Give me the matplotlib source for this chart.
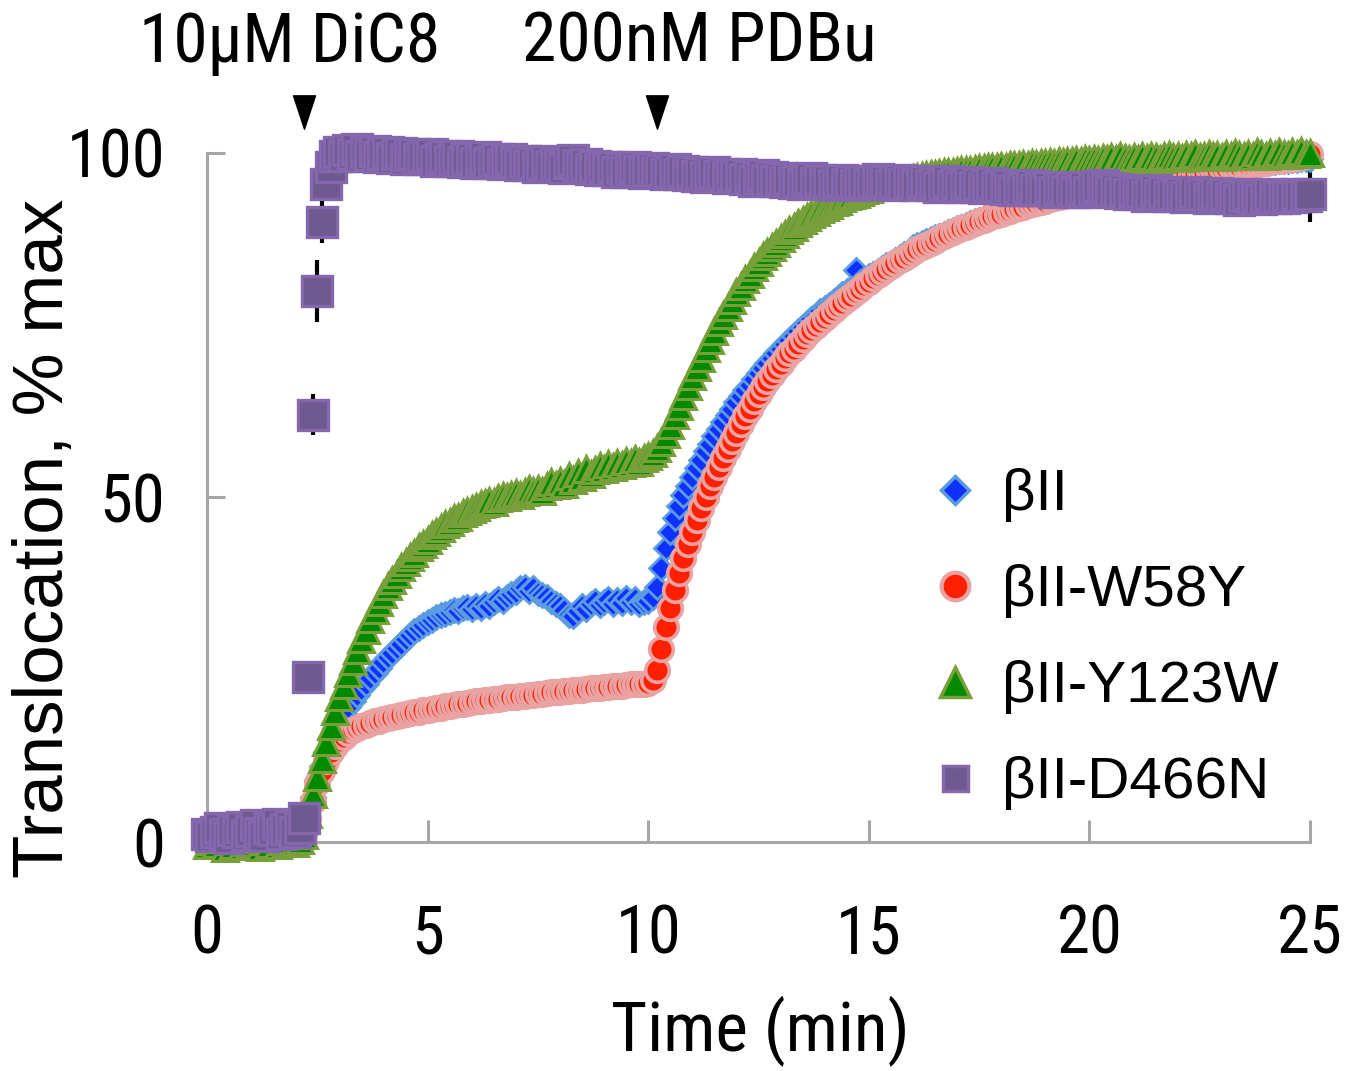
import numpy as np
import matplotlib
matplotlib.use("Agg")
import matplotlib.pyplot as plt
from matplotlib.lines import Line2D
from matplotlib.path import Path
from matplotlib import font_manager as fm

# ---------------- data ----------------
time_min = np.round(np.arange(0, 251) * 0.1, 1)   # sampling grid, 0-25 min

beta_II = [
    0.3, -0.2, 0.5, 0.1, -0.4, 0.6, 0.2, -0.1, 0.4, 0.0,
    0.5, -0.3, 0.2, 0.7, -0.2, 0.3, 0.6, 0.1, -0.3, 0.4,
    0.2, 0.6, 1.5, 3.5, 6.5, 9.0, 11.0, 13.0, 14.8, 16.5,
    17.5, 18.6, 19.6, 20.5, 21.3, 22.2, 23.0, 23.8, 24.6, 25.3,
    26.1, 26.8, 27.5, 28.2, 28.8, 29.4, 30.0, 30.6, 31.0, 31.5,
    31.9, 32.2, 32.6, 32.9, 33.1, 33.4, 33.6, 33.5, 33.9, 34.1,
    33.8, 34.2, 34.0, 34.5, 34.3, 34.8, 35.2, 35.0, 35.6, 36.0,
    36.3, 36.8, 37.0, 36.5, 36.9, 36.2, 35.8, 35.5, 35.0, 34.6,
    34.2, 33.6, 33.0, 32.8, 33.5, 34.3, 33.8, 34.6, 35.0, 34.4,
    34.8, 35.3, 34.6, 35.1, 34.7, 35.4, 34.9, 35.2, 34.5, 34.8,
    35.0, 35.6, 37.0, 39.8, 42.6, 45.0, 47.0, 48.8, 50.3, 51.7,
    53.0, 54.3, 55.5, 56.7, 57.8, 58.9, 60.0, 61.0, 62.0, 62.9,
    63.8, 64.7, 65.6, 66.4, 67.2, 68.0, 68.8, 69.5, 70.2, 70.9,
    71.6, 72.3, 72.9, 73.5, 74.1, 74.7, 75.3, 75.9, 76.4, 77.0,
    77.5, 78.0, 78.5, 79.0, 79.5, 80.0, 80.4, 83.0, 81.3, 81.7,
    82.1, 82.5, 82.9, 83.3, 83.7, 84.1, 84.5, 84.9, 85.3, 85.7,
    86.3, 86.6, 86.9, 87.2, 87.5, 87.8, 88.0, 88.3, 88.6, 88.8,
    89.1, 89.3, 89.6, 89.8, 90.1, 90.3, 90.5, 90.8, 91.0, 91.2,
    91.4, 91.6, 91.8, 92.0, 92.2, 92.4, 92.6, 92.8, 93.0, 93.1,
    93.3, 93.5, 93.6, 93.8, 94.0, 94.1, 94.3, 94.4, 94.6, 94.7,
    94.9, 95.0, 95.1, 95.3, 95.4, 95.5, 95.7, 95.8, 95.9, 96.0,
    96.1, 96.2, 96.4, 96.5, 96.6, 96.7, 96.8, 96.9, 97.0, 97.1,
    97.2, 97.3, 97.3, 97.4, 97.5, 97.6, 97.7, 97.7, 97.8, 97.9,
    98.0, 98.0, 98.1, 98.2, 98.2, 98.3, 98.4, 98.4, 98.5, 98.6,
    98.6, 98.7, 98.7, 98.8, 98.9, 98.9, 99.0, 99.0, 99.1, 99.2,
    99.2,
]

beta_II_W58Y = [
    0.2, -0.3, 0.4, 0.0, -0.5, 0.3, 0.1, -0.2, 0.5, 0.0,
    -0.1, 0.4, -0.4, 0.2, 0.6, -0.2, 0.3, 0.0, 0.5, -0.3,
    0.1, 0.4, 1.2, 3.5, 6.0, 8.5, 10.3, 11.8, 13.0, 14.0,
    14.7, 15.3, 15.8, 16.2, 16.5, 16.8, 17.0, 17.3, 17.5, 17.6,
    17.8, 18.0, 18.1, 18.3, 18.4, 18.6, 18.7, 18.8, 18.9, 19.1,
    19.2, 19.3, 19.4, 19.5, 19.7, 19.8, 19.9, 20.0, 20.1, 20.2,
    20.3, 20.4, 20.5, 20.6, 20.6, 20.7, 20.8, 20.9, 21.0, 21.0,
    21.1, 21.2, 21.2, 21.3, 21.4, 21.5, 21.5, 21.6, 21.7, 21.7,
    21.8, 21.9, 21.9, 22.0, 22.1, 22.1, 22.2, 22.3, 22.3, 22.4,
    22.5, 22.5, 22.6, 22.7, 22.7, 22.8, 22.9, 22.9, 23.0, 23.0,
    23.1, 23.5, 25.0, 28.0, 31.2, 34.0, 36.6, 39.0, 41.2, 43.2,
    45.0, 46.8, 48.5, 50.1, 51.6, 53.0, 54.4, 55.7, 57.0, 58.2,
    59.4, 60.6, 61.8, 62.9, 64.0, 65.0, 66.0, 66.9, 67.8, 68.6,
    69.4, 70.2, 70.9, 71.6, 72.3, 73.0, 73.7, 74.3, 74.9, 75.5,
    76.1, 76.7, 77.2, 77.8, 78.3, 78.8, 79.3, 79.8, 80.3, 80.8,
    81.3, 81.8, 82.3, 82.7, 83.2, 83.6, 84.0, 84.4, 84.8, 85.2,
    85.6, 86.0, 86.3, 86.7, 87.0, 87.3, 87.6, 87.9, 88.2, 88.5,
    88.8, 89.1, 89.3, 89.6, 89.8, 90.1, 90.3, 90.5, 90.8, 91.0,
    91.2, 91.4, 91.6, 91.8, 92.0, 92.2, 92.4, 92.6, 92.8, 92.9,
    93.1, 93.3, 93.4, 93.6, 93.7, 93.9, 94.0, 94.2, 94.3, 94.4,
    94.5, 94.7, 94.8, 94.9, 95.0, 95.1, 95.2, 95.4, 95.5, 95.6,
    95.7, 95.8, 95.9, 96.0, 96.1, 96.2, 96.3, 96.4, 96.5, 96.6,
    96.7, 96.8, 96.9, 97.0, 97.1, 97.2, 97.3, 97.4, 97.5, 97.6,
    97.7, 97.8, 97.9, 98.0, 98.1, 98.2, 98.3, 98.3, 98.4, 98.5,
    98.6, 98.7, 98.8, 98.9, 99.0, 99.1, 99.2, 99.3, 99.4, 99.5,
    99.8,
]

beta_II_Y123W = [
    -0.5, 0.2, -0.3, 0.5, -0.8, 0.1, -0.4, 0.3, -0.6, 0.0,
    -0.2, 0.4, -0.7, 0.1, -0.3, 0.6, -0.5, 0.2, -0.1, 0.3,
    -0.2, 0.3, 1.0, 4.0, 7.0, 9.5, 12.0, 14.5, 16.8, 19.0,
    21.0, 22.8, 24.5, 26.2, 27.9, 29.4, 30.8, 32.3, 33.6, 34.8,
    36.0, 37.1, 38.0, 38.9, 39.9, 40.6, 41.4, 42.0, 42.8, 43.3,
    43.9, 44.6, 45.0, 45.6, 46.1, 46.5, 47.0, 47.2, 47.8, 48.0,
    48.3, 48.6, 49.0, 49.2, 49.5, 49.4, 49.9, 50.2, 50.0, 50.4,
    50.6, 50.3, 50.8, 51.2, 50.9, 51.3, 51.0, 51.6, 52.3, 51.8,
    52.4, 52.0, 53.1, 52.6, 53.5, 53.0, 54.2, 53.4, 54.0, 54.5,
    54.1, 54.8, 54.4, 55.0, 54.7, 55.3, 55.0, 55.6, 55.2, 55.8,
    56.0, 56.5, 57.2, 58.0, 59.2, 60.5, 62.0, 63.3, 64.8, 66.2,
    67.6, 69.0, 70.3, 71.7, 72.9, 74.2, 75.4, 76.5, 77.7, 78.7,
    79.8, 80.7, 81.7, 82.5, 83.4, 84.2, 85.0, 85.7, 86.4, 87.0,
    87.6, 88.2, 88.8, 89.3, 89.8, 90.3, 90.7, 91.1, 91.5, 91.9,
    92.2, 92.5, 92.9, 93.1, 93.4, 93.7, 93.9, 94.1, 94.4, 94.6,
    94.8, 95.0, 95.2, 95.4, 95.5, 95.7, 95.8, 96.0, 96.1, 96.2,
    96.4, 96.5, 96.6, 96.8, 96.9, 97.0, 97.1, 97.2, 97.2, 97.3,
    97.4, 97.5, 97.6, 97.6, 97.7, 97.8, 97.8, 97.9, 98.0, 98.0,
    98.1, 98.0, 98.2, 98.3, 98.2, 98.4, 98.3, 98.5, 98.4, 98.6,
    98.5, 98.7, 98.6, 98.8, 98.7, 98.9, 98.8, 99.0, 98.9, 99.1,
    99.0, 99.2, 99.0, 99.3, 99.1, 99.4, 99.2, 99.5, 99.3, 99.1,
    99.4, 99.2, 99.5, 99.3, 99.6, 99.4, 99.2, 99.5, 99.7, 99.4,
    99.6, 99.3, 99.7, 99.5, 99.8, 99.4, 99.6, 99.9, 99.5, 99.7,
    99.4, 99.8, 99.6, 100.0, 99.7, 99.5, 99.9, 99.6, 100.1, 99.8,
    99.6, 100.0, 99.7, 100.2, 99.9, 99.7, 100.1, 99.8, 100.3, 99.9,
    100.0,
]

beta_II_D466N = [
    1.2, 0.8, 1.5, 2.0, 1.1, 0.6, 1.8, 1.4, 2.2, 1.0,
    1.6, 2.4, 1.3, 0.9, 2.1, 1.7, 2.6, 1.2, 1.9, 2.3,
    1.5, 2.0, 3.5, 24.0, 62.0, 80.0, 90.0, 95.5, 98.0, 99.5,
    100.2, 99.6, 100.4, 99.8, 100.6, 99.5, 100.1, 99.7, 100.3, 99.4,
    99.9, 100.2, 99.3, 99.8, 100.0, 99.2, 99.7, 99.9, 99.1, 99.6,
    99.4, 99.8, 98.9, 99.3, 99.6, 98.8, 99.2, 99.5, 98.7, 99.1,
    99.3, 98.6, 99.0, 99.4, 98.5, 98.9, 99.2, 98.4, 98.8, 99.1,
    98.7, 98.3, 98.9, 98.2, 98.6, 98.0, 98.4, 98.8, 98.1, 98.5,
    98.2, 97.8, 98.6, 99.0, 98.3, 97.9, 98.4, 97.7, 98.1, 97.6,
    98.0, 97.5, 97.9, 97.3, 97.8, 97.2, 97.6, 98.0, 97.4, 97.1,
    97.5, 97.8, 97.2, 97.6, 96.9, 97.3, 97.7, 97.0, 97.4, 96.8,
    97.2, 96.7, 97.1, 96.5, 96.9, 97.3, 96.6, 97.0, 96.4, 96.8,
    96.5, 96.9, 96.2, 96.6, 96.0, 96.4, 96.8, 96.1, 96.5, 95.9,
    96.3, 95.8, 96.2, 95.6, 96.0, 95.5, 95.9, 96.3, 95.7, 96.1,
    95.6, 96.0, 95.4, 95.8, 96.1, 95.5, 95.9, 95.3, 95.7, 96.0,
    95.5, 95.9, 96.2, 95.6, 96.0, 95.4, 95.8, 96.1, 95.5, 95.9,
    95.7, 95.3, 95.8, 96.0, 95.4, 95.6, 95.1, 95.5, 95.9, 95.2,
    95.6, 95.0, 95.4, 95.8, 95.1, 95.5, 94.9, 95.3, 95.7, 95.0,
    95.2, 94.8, 95.4, 94.7, 95.1, 94.6, 95.0, 95.3, 94.7, 94.9,
    94.6, 95.0, 94.4, 94.8, 95.1, 94.5, 94.9, 94.3, 94.7, 95.0,
    94.4, 94.8, 95.2, 95.4, 94.9, 94.5, 94.8, 94.2, 94.6, 94.1,
    94.5, 94.0, 94.4, 93.8, 94.2, 94.6, 93.9, 94.3, 93.7, 94.1,
    93.8, 94.2, 93.6, 94.0, 94.3, 93.7, 94.1, 93.5, 93.9, 94.2,
    93.6, 94.0, 93.4, 93.8, 93.2, 93.7, 94.1, 93.5, 93.9, 93.3,
    93.7, 94.0, 93.4, 93.8, 93.5, 93.9, 93.6, 94.0, 93.7, 93.8,
    94.0,
]

# error bars that show beyond the D466N markers
d466n_err_time = [2.4, 2.5, 2.6, 25.0]
d466n_err = [3.0, 4.5, 3.0, 4.0]

labels = ["βII", "βII-W58Y", "βII-Y123W", "βII-D466N"]
event_time = [2.2, 10.2]
event_label = ["10μM DiC8", "200nM PDBu"]
x_ticks = [0, 5, 10, 15, 20, 25]
y_ticks = [0, 50, 100]

# ---------------- fonts ----------------
_names = {f.name for f in fm.fontManager.ttflist}
NARROW_PROPS = None
for cand in ["Liberation Sans Narrow", "Arial Narrow", "Roboto Condensed", "Open Sans Condensed"]:
    if cand in _names:
        NARROW_PROPS = dict(family=[cand, "DejaVu Sans"])
        NSCALE = 1.0
        break
if NARROW_PROPS is None:
    NARROW_PROPS = dict(family=["Liberation Sans", "DejaVu Sans"])
    NSCALE = 0.86
REG = ["Liberation Sans", "DejaVu Sans"]
GRAY = "#a6a6a6"

styles = {
    "βII": dict(marker="D", ms=12, mfc="#1030ff", mec="#5b9be0", mew=2.0),
    "βII-W58Y": dict(marker="o", ms=17, mfc="#ff2000", mec="#eaa3a3", mew=2.6),
    "βII-Y123W": dict(marker="^", ms=18.5, mfc="#008a00", mec="#77a03a", mew=2.2),
    "βII-D466N": dict(marker="s", ms=21, mfc="#6e5a90", mec="#8467ac", mew=2.4),
}
series = {
    "βII": beta_II,
    "βII-W58Y": beta_II_W58Y,
    "βII-Y123W": beta_II_Y123W,
    "βII-D466N": beta_II_D466N,
}

fig = plt.figure(figsize=(13.62, 10.71), dpi=100)
ax = fig.add_axes([207 / 1362, 229 / 1071, 1103 / 1362, 689 / 1071])

# D466N error bars (beneath markers)
d_vals = np.array(beta_II_D466N)
idx = [int(round(t * 10)) for t in d466n_err_time]
ax.errorbar(np.array(d466n_err_time), d_vals[idx], yerr=d466n_err, fmt="none",
            ecolor="black", elinewidth=3.0, capsize=0, zorder=1.5, clip_on=False)

for z, lab in enumerate(labels):
    st = styles[lab]
    ax.plot(time_min, series[lab], linestyle="none", zorder=2 + z, clip_on=False, **st)

ax.set_xlim(0, 25)
ax.set_ylim(0, 100)
ax.set_xticks(x_ticks)
ax.set_yticks(y_ticks)
ax.set_xticklabels([str(v) for v in x_ticks], fontsize=48 * NSCALE, **NARROW_PROPS)
ax.set_yticklabels([str(v) for v in y_ticks], fontsize=48 * NSCALE, **NARROW_PROPS)
ax.tick_params(axis="x", direction="in", length=16, width=2.2, color=GRAY, pad=44)
ax.tick_params(axis="y", direction="in", length=13, width=2.2, color=GRAY, pad=30)
for s in ["top", "right"]:
    ax.spines[s].set_visible(False)
for s in ["left", "bottom"]:
    ax.spines[s].set_color(GRAY)
    ax.spines[s].set_linewidth(2.2)

# stimulus markers
tri = Path([(-0.33, 0.5), (0.33, 0.5), (0.0, -0.5), (-0.33, 0.5)],
           [Path.MOVETO, Path.LINETO, Path.LINETO, Path.CLOSEPOLY])
ax.plot(event_time, [106, 106], linestyle="none", marker=tri, ms=24,
        color="black", clip_on=False)
label_x = [1.88, 11.15]
for lx, txt in zip(label_x, event_label):
    ax.text(lx, 116, txt, ha="center", va="center", fontsize=50 * NSCALE,
            clip_on=False, **NARROW_PROPS)

fig.text(0.033, 0.497, "Translocation, % max", rotation=90, ha="center", va="center",
         family=REG, fontsize=51)
fig.text(760 / 1362, 21 / 1071, "Time (min)", ha="center", va="baseline",
         fontsize=50 * NSCALE, **NARROW_PROPS)

# legend
leg_styles = {
    "βII": dict(marker="D", ms=14, mfc="#1030ff", mec="#5b9be0", mew=2.5),
    "βII-W58Y": dict(marker="o", ms=20, mfc="#ff2000", mec="#eaa3a3", mew=3.0),
    "βII-Y123W": dict(marker="^", ms=21, mfc="#008a00", mec="#77a03a", mew=2.5),
    "βII-D466N": dict(marker="s", ms=18, mfc="#6e5a90", mec="#8467ac", mew=2.5),
}
handles = [Line2D([], [], linestyle="none", **leg_styles[l]) for l in labels]
leg = ax.legend(handles, labels, loc="upper left",
                bbox_to_anchor=(932 / 1362, 1 - 468 / 1071),
                bbox_transform=fig.transFigure, frameon=False,
                prop=dict(family=REG, size=42), handlelength=0.8,
                handletextpad=0.4, labelspacing=0.72, borderpad=0,
                borderaxespad=0, numpoints=1)

fig.savefig("out.png", dpi=100)
